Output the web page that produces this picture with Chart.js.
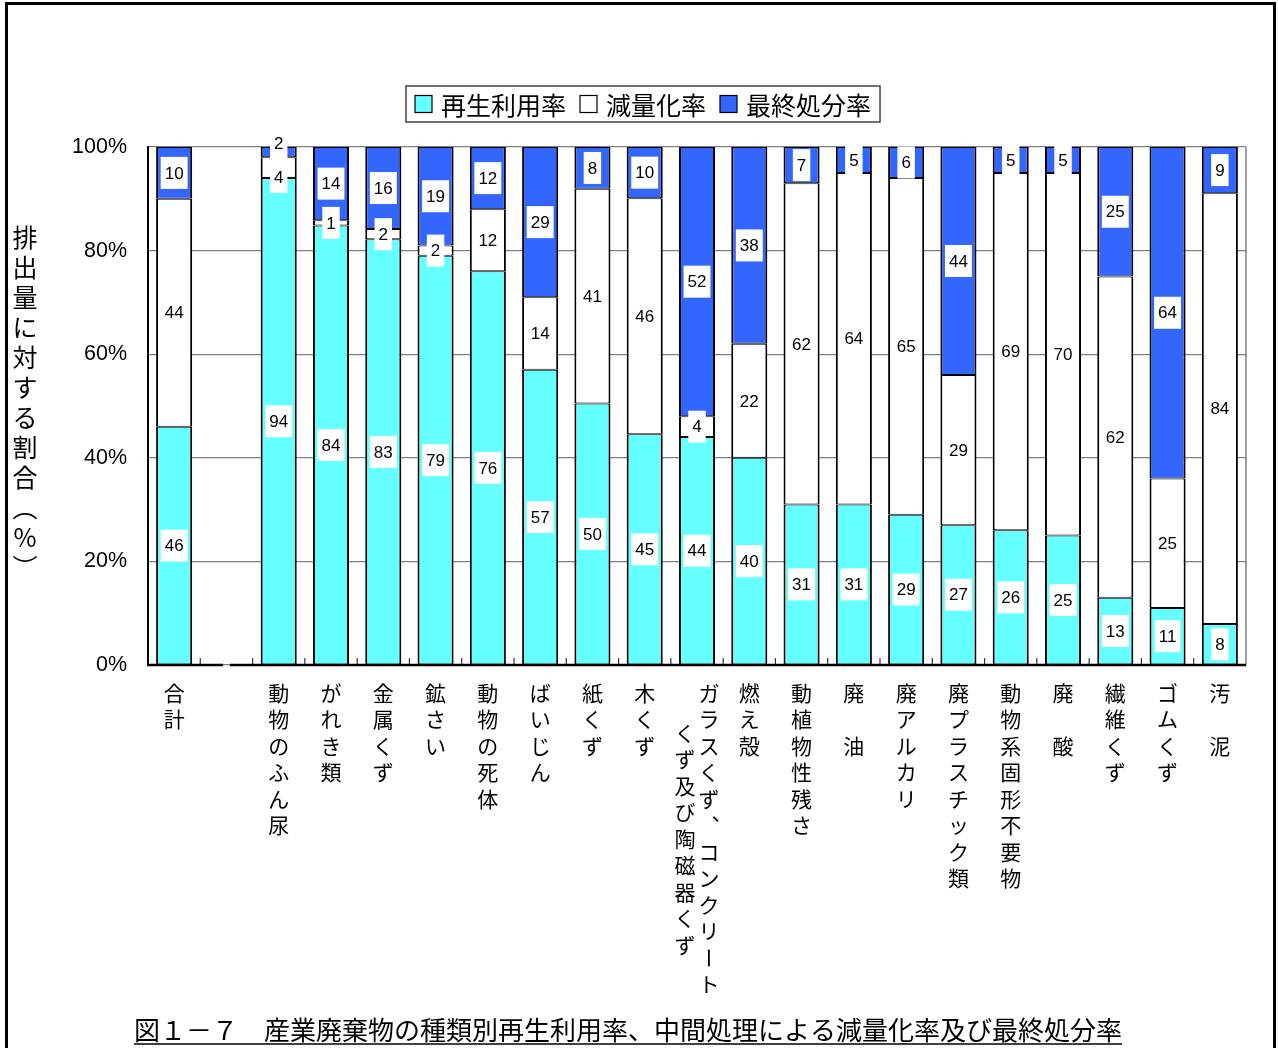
<!DOCTYPE html>
<html>
<head>
<meta charset="utf-8">
<script src="https://cdn.jsdelivr.net/npm/chart.js@4.4.1/dist/chart.umd.min.js"></script>
<style>
  html, body { margin: 0; padding: 0; background: #fff; }
  canvas { display: block; }
</style>
</head>
<body>
<canvas id="chart" width="1278" height="1048"></canvas>
<script>
// categories (a "\n" splits a label into two vertical columns, right one first)
const categories = [
  '合計', '', '動物のふん尿', 'がれき類', '金属くず', '鉱さい', '動物の死体',
  'ばいじん', '紙くず', '木くず', 'ガラスくず、コンクリート\nくず及び陶磁器くず',
  '燃え殻', '動植物性残さ', '廃　油', '廃アルカリ', '廃プラスチック類',
  '動物系固形不要物', '廃　酸', '繊維くず', 'ゴムくず', '汚　泥'
];

// percent values as printed on the bars
const recycled = [46, null, 94, 84, 83, 79, 76, 57, 50, 45, 44, 40, 31, 31, 29, 27, 26, 25, 13, 11, 8];
const reduced  = [44, null, 4, 1, 2, 2, 12, 14, 41, 46, 4, 22, 62, 64, 65, 29, 69, 70, 62, 25, 84];
const disposed = [10, null, 2, 14, 16, 19, 12, 29, 8, 10, 52, 38, 7, 5, 6, 44, 5, 5, 25, 64, 9];

const seriesNames = ['再生利用率', '減量化率', '最終処分率'];
const seriesColors = ['#66FFFF', '#FFFFFF', '#3366FF'];
const yTicks = [0, 20, 40, 60, 80, 100];

const titleText = '図１－７　産業廃棄物の種類別再生利用率、中間処理による減量化率及び最終処分率';
const yTitle = '排出量に対する割合︵%︶';

const JP = '"Noto Sans CJK JP", "Noto Sans", sans-serif';
const NUM = '"Liberation Sans", Arial, sans-serif';

const raw = [recycled, reduced, disposed];

// 100% stacked: each category is scaled to its own total, like the original sheet
const share = raw.map(arr => arr.map((v, i) => {
  if (v === null) return null;
  const total = recycled[i] + reduced[i] + disposed[i];
  return v / total * 100;
}));

const decor = {
  id: 'decor',
  beforeDraw(chart) {
    const ctx = chart.ctx;
    ctx.save();
    ctx.fillStyle = '#fff';
    ctx.fillRect(0, 0, chart.width, chart.height);
    ctx.restore();
  },
  afterDatasetsDraw(chart) {
    const ctx = chart.ctx;
    const area = chart.chartArea;
    const x = chart.scales.x;
    const step = (area.right - area.left) / categories.length;

    ctx.save();
    // right border of the plot area
    ctx.strokeStyle = '#808080';
    ctx.lineWidth = 1.5;
    ctx.beginPath();
    ctx.moveTo(area.right, area.top);
    ctx.lineTo(area.right, area.bottom);
    ctx.stroke();

    // category separators
    ctx.strokeStyle = '#333';
    ctx.lineWidth = 1.2;
    for (let i = 1; i < categories.length; i++) {
      const px = area.left + step * i;
      ctx.beginPath();
      ctx.moveTo(px, area.bottom);
      ctx.lineTo(px, area.bottom - 7);
      ctx.stroke();
    }

    // x axis line, broken at the empty slot
    const gapX = x.getPixelForValue(categories.indexOf(''));
    ctx.strokeStyle = '#000';
    ctx.lineWidth = 2.5;
    ctx.beginPath();
    ctx.moveTo(area.left - 1, area.bottom);
    ctx.lineTo(gapX - 3.5, area.bottom);
    ctx.moveTo(gapX + 3.5, area.bottom);
    ctx.lineTo(area.right, area.bottom);
    ctx.stroke();

    // value labels in white boxes
    ctx.font = '17px ' + NUM;
    ctx.textAlign = 'center';
    ctx.textBaseline = 'middle';
    const minGap = 34;
    categories.forEach((c, i) => {
      const items = [];
      raw.forEach((arr, d) => {
        if (arr[i] === null) return;
        const el = chart.getDatasetMeta(d).data[i];
        items.push({ x: el.x, y: (el.y + el.base) / 2, text: String(arr[i]) });
      });
      items.sort((a, b) => a.y - b.y);
      for (let it = 0; it < 10; it++) {
        for (let k = 0; k < items.length - 1; k++) {
          const diff = items[k + 1].y - items[k].y;
          if (diff < minGap) {
            const s = (minGap - diff) / 2;
            items[k].y -= s;
            items[k + 1].y += s;
          }
        }
      }
      items.forEach(lb => {
        const w = ctx.measureText(lb.text).width + 8;
        ctx.fillStyle = '#fff';
        ctx.fillRect(lb.x - w / 2, lb.y - 16, w, 32);
        ctx.fillStyle = '#000';
        ctx.fillText(lb.text, lb.x, lb.y + 1);
      });
    });
    ctx.restore();
  },
  afterDraw(chart) {
    const ctx = chart.ctx;
    const area = chart.chartArea;
    const x = chart.scales.x;

    ctx.save();
    ctx.fillStyle = '#000';
    ctx.textAlign = 'center';
    ctx.textBaseline = 'middle';

    // vertical category labels
    ctx.font = '21px ' + JP;
    const rowH = 26.5;
    categories.forEach((label, i) => {
      if (!label) return;
      const cx = x.getPixelForValue(i);
      const cols = label.split('\n');
      const maxLen = Math.max(...cols.map(s => s.length));
      cols.forEach((col, c) => {
        const colX = cx + (cols.length - 1) * 12 - c * 24;
        const off = (maxLen - col.length) / 2;
        [...col].forEach((ch, j) => {
          const cy = area.bottom + 28 + (j + off) * rowH;
          if (ch === 'ー') {
            ctx.save();
            ctx.translate(colX, cy);
            ctx.rotate(Math.PI / 2);
            ctx.fillText(ch, 0, 0);
            ctx.restore();
          } else if (ch === '、') {
            ctx.fillText(ch, colX + 13, cy - 13);
          } else {
            ctx.fillText(ch, colX, cy);
          }
        });
      });
    });

    // vertical y axis title
    ctx.font = '25px ' + JP;
    [...yTitle].forEach((ch, j) => {
      ctx.fillText(ch, 25, 237 + j * 30);
    });

    // legend in a framed box
    ctx.font = '25px ' + JP;
    const sq = 17, gapIn = 9, gapOut = 14, pad = 9;
    const widths = seriesNames.map(n => ctx.measureText(n).width);
    let total = pad * 2;
    widths.forEach((w, k) => { total += sq + gapIn + w + (k < widths.length - 1 ? gapOut : 0); });
    const legCx = 643, legTop = 86, legH = 36;
    let lx = legCx - total / 2;
    ctx.strokeStyle = '#404040';
    ctx.lineWidth = 1.5;
    ctx.strokeRect(lx, legTop, total, legH);
    lx += pad;
    ctx.textAlign = 'left';
    seriesNames.forEach((n, k) => {
      const cy = legTop + legH / 2;
      ctx.fillStyle = seriesColors[k];
      ctx.fillRect(lx, cy - sq / 2, sq, sq);
      ctx.strokeStyle = '#000';
      ctx.lineWidth = 1.2;
      ctx.strokeRect(lx, cy - sq / 2, sq, sq);
      lx += sq + gapIn;
      ctx.fillStyle = '#000';
      ctx.fillText(n, lx, cy + 1);
      lx += widths[k] + gapOut;
    });

    // bottom caption, underlined
    ctx.font = '26px ' + JP;
    ctx.textAlign = 'center';
    const tw = ctx.measureText(titleText).width;
    ctx.fillText(titleText, 628, 1030);
    ctx.strokeStyle = '#000';
    ctx.lineWidth = 1.5;
    ctx.beginPath();
    ctx.moveTo(628 - tw / 2, 1044);
    ctx.lineTo(628 + tw / 2, 1044);
    ctx.stroke();

    // page frame
    ctx.lineWidth = 3;
    ctx.strokeRect(6.5, 3.5, 1268, 1100);
    ctx.restore();
  }
};

new Chart(document.getElementById('chart'), {
  type: 'bar',
  data: {
    labels: categories,
    datasets: share.map((arr, d) => ({
      label: seriesNames[d],
      data: arr,
      backgroundColor: seriesColors[d],
      borderColor: '#000',
      borderWidth: { top: 1, bottom: 1, left: 2, right: 2 },
      borderSkipped: false,
      barPercentage: 0.69,
      categoryPercentage: 1
    }))
  },
  options: {
    responsive: false,
    animation: false,
    devicePixelRatio: 1,
    layout: { padding: { top: 147, right: 32, bottom: 373, left: 0 } },
    plugins: {
      legend: { display: false },
      title: { display: false },
      tooltip: { enabled: false }
    },
    scales: {
      x: {
        stacked: true,
        grid: { display: false },
        border: { display: false },
        ticks: { display: false },
        afterFit(scale) { scale.height = 10; }
      },
      y: {
        stacked: true,
        min: 0,
        max: 100,
        afterBuildTicks(scale) { scale.ticks = yTicks.map(v => ({ value: v })); },
        ticks: {
          callback: v => v + '%',
          font: { family: NUM, size: 21.5 },
          color: '#000',
          padding: 21
        },
        grid: { color: '#808080', lineWidth: 1.2, drawTicks: false },
        border: { color: '#000', width: 2 },
        afterFit(scale) { scale.width = 148; }
      }
    }
  },
  plugins: [decor]
});
</script>
</body>
</html>
